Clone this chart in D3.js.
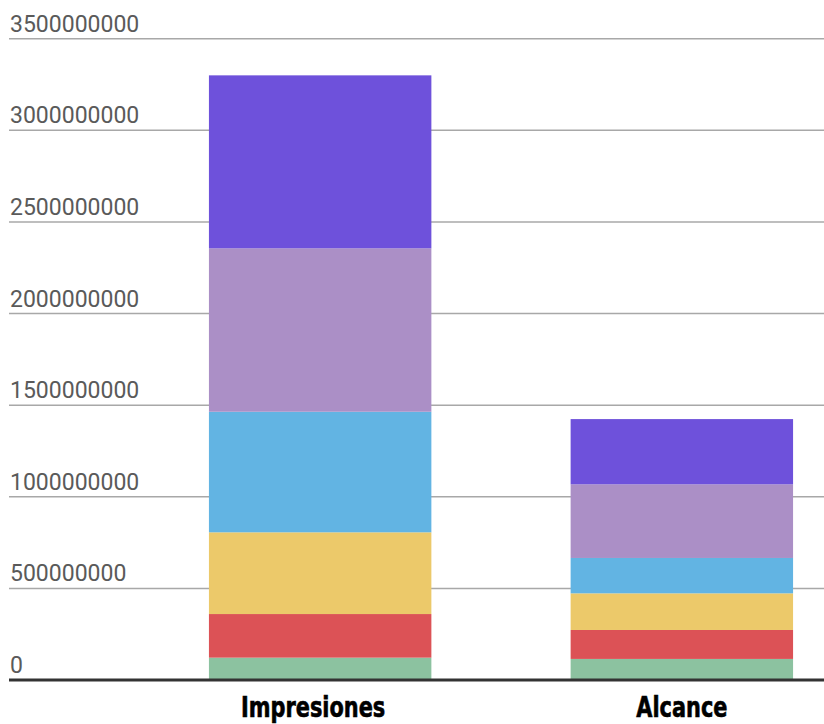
<!DOCTYPE html>
<html>
<head>
<meta charset="utf-8">
<script src="https://cdn.jsdelivr.net/npm/d3@7"></script>
<style>
  body { margin: 0; background: #fff; }
  .tick-label { font-family: Roboto, sans-serif; font-size: 23px; fill: #5a5a5a; }
  .cat-label { font-family: "DejaVu Sans Condensed", "DejaVu Sans", sans-serif; font-stretch: condensed; font-weight: bold; font-size: 29px; fill: #000; stroke: #000; stroke-width: 0.6px; }
</style>
</head>
<body>
<div id="chart"></div>
<script>
// data (bottom segment first)
const categories = ["Impresiones", "Alcance"];
const series = ["s1", "s2", "s3", "s4", "s5", "s6"];
const s1 = [122000000, 115000000];
const s2 = [238000000, 158000000];
const s3 = [446000000, 200000000];
const s4 = [658000000, 193000000];
const s5 = [892000000, 402000000];
const s6 = [944000000, 356000000];
const yTicks = [0, 500000000, 1000000000, 1500000000, 2000000000, 2500000000, 3000000000, 3500000000];
const colors = ["#8cc2a0", "#dc5256", "#ecc96a", "#62b4e3", "#ab8fc6", "#6e51db"];

const width = 824, height = 724;
const left = 9, baseY = 680, topY = 38.7;

const rows = categories.map((c, i) => ({
  cat: c, s1: s1[i], s2: s2[i], s3: s3[i], s4: s4[i], s5: s5[i], s6: s6[i]
}));

const svg = d3.select("#chart").append("svg")
  .attr("width", width)
  .attr("height", height);

const yScale = d3.scaleLinear().domain([0, 3500000000]).range([baseY, topY]);
const xScale = d3.scaleBand()
  .domain(categories)
  .range([10, 992])
  .paddingInner(0.385)
  .paddingOuter(0.55);

// gridlines
svg.append("g").selectAll("line")
  .data(yTicks.filter(d => d > 0))
  .enter().append("line")
    .attr("x1", left)
    .attr("x2", width)
    .attr("y1", d => yScale(d))
    .attr("y2", d => yScale(d))
    .attr("stroke", "#a8a8a8")
    .attr("stroke-width", 1.5);

// tick labels sit above their lines
svg.append("g").selectAll("text")
  .data(yTicks)
  .enter().append("text")
    .attr("class", "tick-label")
    .attr("x", 10)
    .attr("y", d => yScale(d) - 7)
    .text(d => d3.format("d")(d));

const stacked = d3.stack().keys(series)(rows);

svg.append("g").selectAll("g")
  .data(stacked)
  .enter().append("g")
    .attr("fill", (d, i) => colors[i])
  .selectAll("rect")
  .data(d => d)
  .enter().append("rect")
    .attr("x", d => xScale(d.data.cat))
    .attr("width", xScale.bandwidth())
    .attr("y", d => yScale(d[1]))
    .attr("height", d => yScale(d[0]) - yScale(d[1]));

// baseline
svg.append("line")
  .attr("x1", left)
  .attr("x2", width)
  .attr("y1", baseY)
  .attr("y2", baseY)
  .attr("stroke", "#333")
  .attr("stroke-width", 3);

// condensed bold category labels: squeeze the natural width
svg.append("g").selectAll("text")
  .data(categories)
  .enter().append("text")
    .attr("class", "cat-label")
    .attr("x", d => xScale(d) + xScale.bandwidth() / 2 - (d === categories[0] ? 7 : 0))
    .attr("y", 717)
    .attr("text-anchor", "middle")
    .text(d => d)
    .each(function() {
      const w = this.getComputedTextLength();
      d3.select(this)
        .attr("textLength", w * 0.8)
        .attr("lengthAdjust", "spacingAndGlyphs");
    });
</script>
</body>
</html>
